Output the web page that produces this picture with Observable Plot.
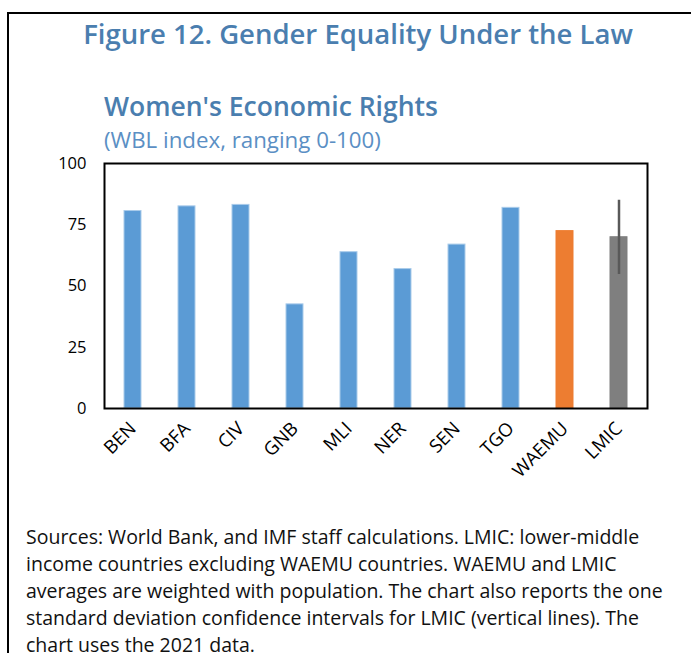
<!DOCTYPE html>
<html>
<head>
<meta charset="utf-8">
<script src="https://cdn.jsdelivr.net/npm/d3@7"></script>
<script src="https://cdn.jsdelivr.net/npm/@observablehq/plot@0.6"></script>
<style>
  html, body { margin: 0; padding: 0; background: #fff; }
  body { width: 691px; height: 653px; position: relative; overflow: hidden; font-family: "Open Sans", "Noto Sans", sans-serif; }
  #border { position: absolute; left: 7px; top: 12px; width: 700px; height: 700px; border-left: 2px solid #000; border-top: 2px solid #000; }
  .t { position: absolute; white-space: nowrap; }
  #title { left: 0; width: 716px; top: 15px; text-align: center; font-size: 27.5px; font-weight: 600; color: #4A7EAF; }
  #sub { left: 104px; top: 88px; font-size: 26.5px; font-weight: 600; color: #4A7EAF; }
  #sub2 { left: 104px; top: 124px; font-size: 22.3px; color: #5B8FC4; }
  #chart { position: absolute; left: 0; top: 150px; }
  #caption { left: 26px; top: 523px; font-size: 19.5px; line-height: 27px; color: #111; }
</style>
</head>
<body>
<div id="border"></div>
<div class="t" id="title">Figure 12. Gender Equality Under the Law</div>
<div class="t" id="sub">Women's Economic Rights</div>
<div class="t" id="sub2">(WBL index, ranging 0-100)</div>
<div id="chart"></div>
<div class="t" id="caption">Sources: World Bank, and IMF staff calculations. LMIC: lower-middle<br>income countries excluding WAEMU countries. WAEMU and LMIC<br>averages are weighted with population. The chart also reports the one<br>standard deviation confidence intervals for LMIC (vertical lines). The<br>chart uses the 2021 data.</div>
<script>
const categories = ["BEN", "BFA", "CIV", "GNB", "MLI", "NER", "SEN", "TGO", "WAEMU", "LMIC"];
const values = [80.6, 82.5, 83.1, 42.5, 63.8, 56.9, 66.9, 81.9, 72.4, 69.9];
const groups = ["country", "country", "country", "country", "country", "country", "country", "country", "WAEMU", "LMIC"];
const yTicks = [0, 25, 50, 75, 100];
const lmicLow = 54.7;
const lmicHigh = 85.0;

const colorOf = {country: "#5B9BD5", WAEMU: "#ED7D31", LMIC: "#7F7F7F"};
const strokeOf = {country: "#A9CBEA", WAEMU: "#ED7D31", LMIC: "#7F7F7F"};

const data = categories.map((c, i) => ({cat: c, value: values[i], group: groups[i]}));
const sd = [{cat: "LMIC", lo: lmicLow, hi: lmicHigh}];

const chart = Plot.plot({
  width: 691,
  height: 360,
  marginLeft: 104,
  marginRight: 44,
  marginTop: 13,
  marginBottom: 102,
  style: {fontFamily: "'Open Sans', 'Noto Sans', sans-serif", fontSize: "16px", color: "#000", background: "transparent"},
  x: {domain: categories, paddingInner: 0.68, paddingOuter: 0.34, label: null},
  y: {domain: [0, 100], label: null},
  marks: [
    Plot.barY(data, {x: "cat", y: "value", fill: d => colorOf[d.group], stroke: d => strokeOf[d.group], strokeWidth: 1}),
    Plot.ruleX(sd, {x: "cat", y1: "lo", y2: "hi", stroke: "#595959", strokeWidth: 2.5}),
    Plot.axisY({ticks: yTicks, tickSize: 0, tickPadding: 18, label: null, fontSize: 16.5}),
    Plot.axisX({tickSize: 0, tickPadding: 17, tickRotate: -45, label: null, fontSize: 18.5}),
    Plot.frame({stroke: "#000", strokeWidth: 2})
  ]
});
d3.select(chart).selectAll("g[aria-label='y-axis tick label'] text").style("font-size", "16.5px").attr("fill", "#000");
d3.select(chart).selectAll("g[aria-label='x-axis tick label'] text").style("font-size", "18.5px").attr("fill", "#000");
document.getElementById("chart").appendChild(chart);
</script>
</body>
</html>
